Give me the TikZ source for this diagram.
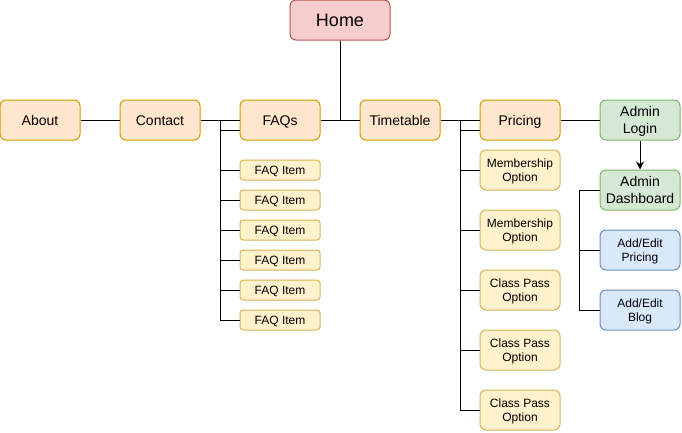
\documentclass[tikz,border=0pt]{standalone}
\usepackage{fontspec}
\setmainfont{Liberation Sans}
\usetikzlibrary{arrows.meta}
\definecolor{redfill}{HTML}{F8CECC}
\definecolor{redline}{HTML}{B85450}
\definecolor{orfill}{HTML}{FFE6CC}
\definecolor{orline}{HTML}{D79B00}
\definecolor{yefill}{HTML}{FFF2CC}
\definecolor{yeline}{HTML}{D6B656}
\definecolor{grfill}{HTML}{D5E8D4}
\definecolor{grline}{HTML}{82B366}
\definecolor{blfill}{HTML}{DAE8FC}
\definecolor{blline}{HTML}{6C8EBF}
\tikzset{
  boxbase/.style={draw, line width=1pt, rounded corners=6pt, minimum width=80pt, minimum height=40pt, inner sep=1pt, align=center, text=black},
  homebox/.style={boxbase, fill=redfill, draw=redline, minimum width=100pt, font=\fontsize{18}{21}\selectfont, text height=12.9pt, text depth=0pt},
  mainbox/.style={boxbase, fill=orfill, draw=orline, font=\fontsize{14}{16.5}\selectfont, text height=10pt, text depth=0pt},
  adminbox/.style={boxbase, fill=grfill, draw=grline, font=\fontsize{14}{16.5}\selectfont, text depth=0pt},
  optbox/.style={boxbase, fill=yefill, draw=yeline, font=\fontsize{12}{14}\selectfont, text depth=0pt},
  itembox/.style={boxbase, fill=yefill, draw=yeline, minimum height=20pt, rounded corners=3pt, font=\fontsize{12}{14}\selectfont, text height=8.6pt, text depth=0pt},
  editbox/.style={boxbase, fill=blfill, draw=blline, font=\fontsize{12}{14}\selectfont, text depth=0pt},
  conn/.style={draw=black, line width=1pt},
  arr/.style={conn, -{Stealth[length=8pt,width=8pt,inset=2.5pt]}}
}
\begin{document}
\begin{tikzpicture}[x=1pt,y=-1pt]
\useasboundingbox[fill=white] (0,0) rectangle (682,432);
\node[homebox] (Home) at (340,20) {Home};
\node[mainbox] (About) at (40,120) {About};
\node[mainbox] (Contact) at (160,120) {Contact};
\node[mainbox] (FAQs) at (280,120) {FAQs};
\node[mainbox] (Timetable) at (400,120) {Timetable};
\node[mainbox] (Pricing) at (520,120) {Pricing};
\node[adminbox] (Login) at (640,120) {Admin\\Login};
\node[adminbox] (Dash) at (640,190) {Admin\\Dashboard};
\node[editbox] (AEP) at (640,250) {Add/Edit\\Pricing};
\node[editbox] (AEB) at (640,310) {Add/Edit\\Blog};
\foreach \i/\y in {1/170,2/200,3/230,4/260,5/290,6/320}
  \node[itembox] (item\i) at (280,\y) {FAQ Item};
\node[optbox] (mem1) at (520,170) {Membership\\Option};
\node[optbox] (mem2) at (520,230) {Membership\\Option};
\node[optbox] (cp1) at (520,290) {Class Pass\\Option};
\node[optbox] (cp2) at (520,350) {Class Pass\\Option};
\node[optbox] (cp3) at (520,410) {Class Pass\\Option};
\coordinate (fj) at (220,120);
\coordinate (pj) at (460,120);
\draw[conn] (About) -- (Contact);
\draw[conn] (Contact) -- (FAQs);
\draw[conn] (Home) |- (FAQs);
\draw[conn] (Home) |- (Timetable);
\draw[conn] (Timetable) -- (Pricing);
\draw[conn] (Pricing) -- (Login);
\draw[arr] (Login) -- (Dash);
\draw[conn] (fj) |- ([yshift=-10pt]FAQs.west);
\foreach \i in {1,...,6}
  \draw[conn] (fj) |- (item\i);
\draw[conn] (pj) |- ([yshift=-10pt]Pricing.west);
\foreach \n in {mem1,mem2,cp1,cp2,cp3}
  \draw[conn] (pj) |- (\n);
\draw[conn] (Dash.west) -- ++(-20,0) |- (AEP);
\draw[conn] (Dash.west) -- ++(-20,0) |- (AEB);
\end{tikzpicture}
\end{document}
